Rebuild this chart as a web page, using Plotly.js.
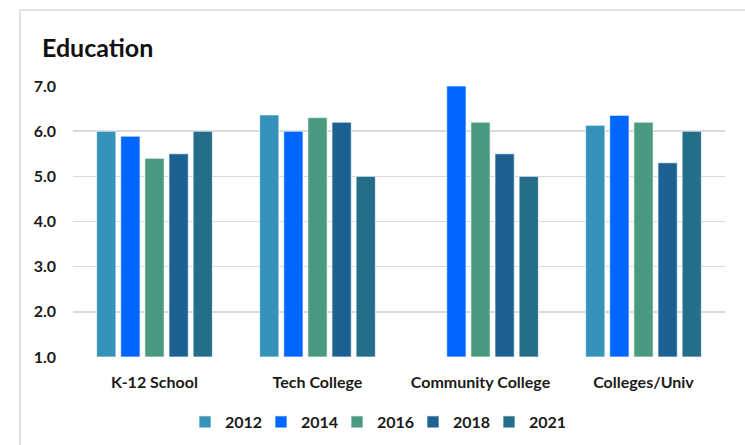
<!DOCTYPE html>
<html>
<head>
<meta charset="utf-8">
<script src="https://cdn.plot.ly/plotly-3.0.1.min.js"></script>
<style>html,body{margin:0;padding:0;background:#fff;}#chart{width:745px;height:445px;}</style>
</head>
<body>
<div id="chart"></div>
<script>
const categories = ["K-12 School", "Tech College", "Community College", "Colleges/Univ"];
const years = ["2012", "2014", "2016", "2018", "2021"];
const v2012 = [6.0, 6.36, null, 6.13];
const v2014 = [5.89, 6.0, 7.0, 6.35];
const v2016 = [5.4, 6.3, 6.2, 6.2];
const v2018 = [5.5, 6.2, 5.5, 5.3];
const v2021 = [6.0, 5.0, 5.0, 6.0];
const yTicks = [1, 2, 3, 4, 5, 6, 7];
const yTickLabels = ["1.0", "2.0", "3.0", "4.0", "5.0", "6.0", "7.0"];

const series = [v2012, v2014, v2016, v2018, v2021];
const colors = ["#3593BB", "#0066FF", "#4A9A81", "#1D6192", "#246E89"];

const traces = series.map((vals, i) => ({
  type: "bar",
  name: years[i],
  x: categories,
  y: vals.map(v => v === null ? null : v - 1),
  base: 1,
  marker: { color: colors[i], line: { color: "rgba(255,255,255,0.7)", width: 1 } },
  hoverinfo: "skip"
}));

const W = 745, H = 445, ml = 73, mr = 20, mt = 86, mb = 88;
const pw = W - ml - mr, ph = H - mt - mb;
const px = x => (x - ml) / pw;
const py = y => (H - mb - y) / ph;
const FONT = "Lato, Open Sans, sans-serif";

const layout = {
  width: W, height: H,
  margin: { l: ml, r: mr, t: mt, b: mb, pad: 0, autoexpand: false },
  paper_bgcolor: "#ffffff",
  plot_bgcolor: "#ffffff",
  font: { family: FONT, color: "#1a1a1a" },
  title: {
    text: "<b>Education</b>",
    font: { size: 25, color: "#111111", family: FONT },
    x: 42 / W, xanchor: "left", xref: "container",
    y: 1 - 48 / H, yanchor: "middle", yref: "container"
  },
  barmode: "group",
  bargap: 0.26,
  bargroupgap: 0.2,
  xaxis: {
    type: "category",
    showgrid: false, zeroline: false, showline: false,
    ticks: "", ticklen: 0,
    tickfont: { size: 16, color: "#1a1a1a", family: FONT, weight: "bold" },
    ticklabelstandoff: 14,
    fixedrange: true
  },
  yaxis: {
    range: [1, 7],
    tickvals: yTicks, ticktext: yTickLabels,
    showgrid: true, gridcolor: "#d9d9d9", gridwidth: 1.5,
    zeroline: false, showline: false, ticks: "",
    tickfont: { size: 16, color: "#1a1a1a", family: FONT, weight: "bold" },
    ticklabelstandoff: 16,
    fixedrange: true
  },
  showlegend: true,
  legend: {
    orientation: "h",
    x: 185 / W, xanchor: "left", xref: "container",
    y: 1 - 422 / H, yanchor: "middle", yref: "container",
    font: { size: 16, color: "#1a1a1a", family: FONT, weight: "bold" },
    entrywidth: 31, entrywidthmode: "pixels",
    itemwidth: 30, tracegroupgap: 0,
    traceorder: "normal"
  },
  shapes: [
    { type: "line", xref: "paper", yref: "paper", x0: px(20), x1: px(745), y0: py(10), y1: py(10), line: { color: "#d9d9d9", width: 1.5 } },
    { type: "line", xref: "paper", yref: "paper", x0: px(20), x1: px(20), y0: py(10), y1: py(445), line: { color: "#d9d9d9", width: 1.5 } }
  ]
};

Plotly.newPlot("chart", traces, layout, { displayModeBar: false, staticPlot: true });
</script>
</body>
</html>
